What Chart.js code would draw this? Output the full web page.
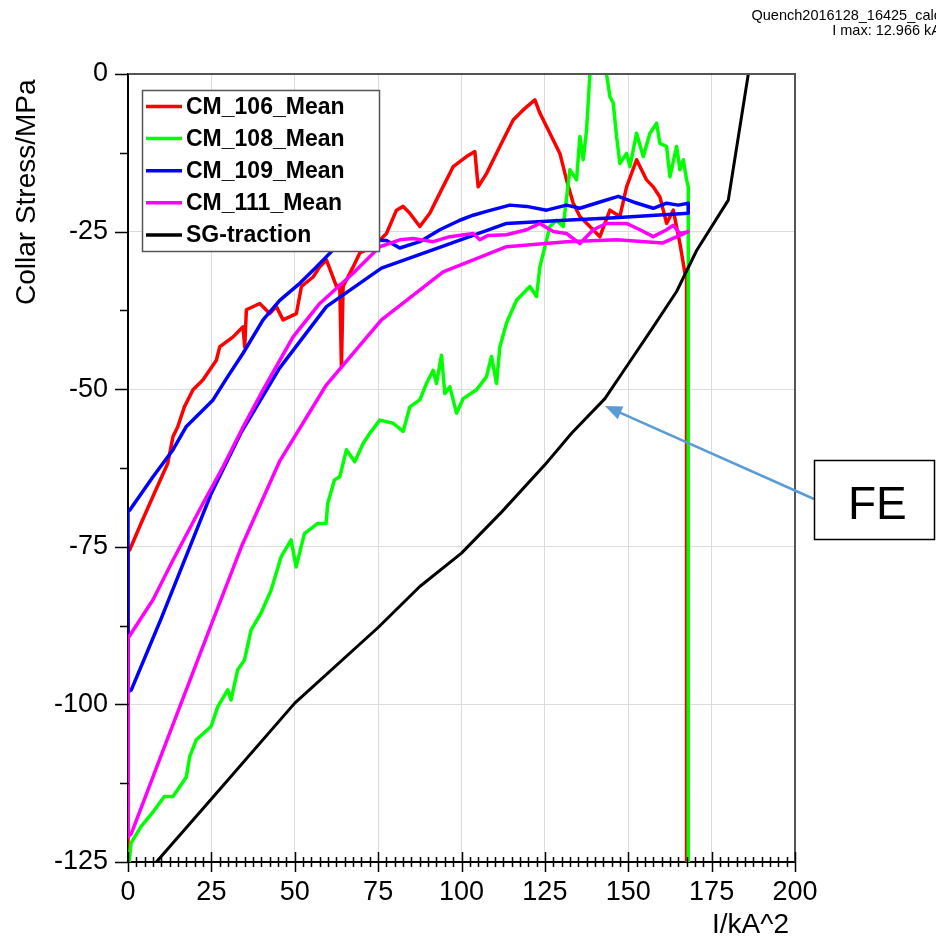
<!DOCTYPE html>
<html>
<head>
<meta charset="utf-8">
<title>Collar stress vs I^2</title>
<script src="https://cdn.jsdelivr.net/npm/chart.js@4.4.1/dist/chart.umd.min.js"></script>
<style>
  html, body { margin: 0; padding: 0; background: #fff; overflow: hidden; }
  canvas { display: block; }
</style>
</head>
<body>
<canvas id="chart" width="936" height="937"></canvas>
<script>
// values: x is I^2 in kA^2, y is collar stress in MPa
// each measured channel: ramp (noisy) up to ~168 kA^2, then the discharge back to 0

const cm106X = [0, 0, 0.5, 3.9, 7.9, 11.9, 13.5, 14.9, 16.9, 19.5, 22.5, 26.5, 27.5, 31.5, 34.5, 35, 35.5,
  39.5, 42.5, 44.5, 46.5, 50.5, 52, 55.5, 57.5, 59.5, 62.5, 63.5, 64, 64.5, 67.5, 69.5, 73.5, 77.5, 80.5,
  82.5, 84.5, 87.5, 90.5, 93.5, 97.5, 101.5, 104, 105, 107.5, 111.5, 115.5, 118.5, 122, 123.5, 126.5,
  129.5, 131.5, 133.5, 135.5, 138.5, 141.5, 144.5, 147.5, 149.5, 152.5, 155.5, 157.5, 159.5, 161.5,
  163.5, 165.5, 167, 167.5, 167.5];
const cm106Y = [-127, -75.5, -75.5, -71.3, -66.5, -61.8, -57.5, -56, -52.8, -50.1, -48.5, -45.4, -43.3,
  -41.7, -40.1, -43.3, -37.4, -36.4, -38, -36.9, -39, -38, -33.7, -32.2, -30.6, -29.5, -33.7, -33.5, -46.5,
  -33.7, -30.6, -28.4, -27.4, -25.3, -21.6, -21, -22.1, -24.2, -22.1, -18.9, -14.7, -13.1, -12.3, -17.9,
  -15.8, -11.5, -7.3, -5.7, -4.1, -6.2, -9.4, -12.6, -16.8, -20.5, -22.6, -24.2, -25.8, -21.6, -22.6,
  -17.9, -13.6, -16.8, -17.9, -19.5, -23.7, -21.6, -26.9, -31.6, -31.8, -130];

const cm108X = [0, 0.9, 3.9, 7.9, 10.9, 13.5, 17.5, 18.5, 20.5, 24.9, 26.9, 29.9, 30.9, 32.9, 34.9, 36.9,
  39.9, 42.9, 45.9, 48.9, 50.4, 52.9, 56.9, 59.4, 59.9, 61.9, 63.5, 65.5, 68, 70.5, 72.5, 75.5, 79.5, 82.5,
  84.5, 87.5, 89.5, 91.5, 92.5, 94, 95, 96.5, 98.5, 100.5, 104.5, 107.5, 109, 110.5, 111.5, 113.5, 116.5,
  120.5, 122.5, 123.5, 125, 126.5, 128.5, 130.5, 132.5, 134.5, 135.5, 136.5, 137.5, 138.5, 141, 143.5,
  144.5, 145.5, 146.5, 147.5, 149.5, 150.5, 152.5, 154.5, 156.5, 158.5, 159.5, 161.5, 162.5, 164.5,
  165.5, 166.5, 167.5, 168, 168];
const cm108Y = [-127, -122, -119.4, -116.8, -114.6, -114.6, -111.5, -108.3, -105.6, -103.5, -100.4, -97.7,
  -99.3, -94.5, -93, -88.2, -85.5, -81.9, -76.6, -73.9, -78.2, -72.9, -71.3, -71.3, -68.1, -64.4, -63.9,
  -59.6, -61.5, -58.6, -57, -54.9, -55.4, -56.7, -52.8, -51.7, -49.1, -47, -49.1, -44.6, -50.7, -49.6,
  -53.8, -51.5, -50.1, -48, -44.8, -49.1, -43.3, -39.5, -35.9, -33.7, -35.3, -30.6, -27.4, -24.2, -23.2,
  -24.2, -15.2, -16.8, -9.9, -13.6, -8.9, 0, 6, 0, -3.6, -4.6, -9.9, -14.2, -12.6, -14.7, -9.4, -13.1,
  -9.4, -7.8, -11, -11.5, -16.3, -11.5, -15.2, -13.6, -16.8, -17.9, -130];

const cm109X = [0, 0.5, 7.5, 13.5, 17.5, 21.5, 25.5, 29.9, 34.5, 40.5, 45.5, 51.5, 56.5, 61.5, 70, 77.5,
  81.5, 87.5, 93.5, 99.5, 103.5, 107.5, 114.5, 119.5, 125.5, 131.5, 135.5, 141.5, 147, 151.5, 157.5,
  161.5, 165, 168, 168, 146, 131, 113.5, 94.5, 76, 59.5, 45.4, 34, 25, 10, 1, 0, 0];
const cm109Y = [-69.2, -69.2, -63.9, -59.6, -55.9, -53.8, -51.7, -48, -44.3, -39, -35.9, -33.2, -30.6,
  -27.9, -26.3, -26.4, -27.6, -26.6, -24.7, -23.2, -22.4, -21.8, -20.8, -21, -21.6, -20.8, -21.3, -20.3,
  -19.4, -20.3, -21.3, -20.5, -20.8, -20.5, -22.1, -22.8, -23.2, -23.7, -27.3, -30.8, -36.9, -46.7,
  -56.8, -66.5, -86.3, -97.7, -98, -69.2];

const cm111X = [0, 7.5, 13.5, 22.5, 28.5, 34.5, 40.5, 49.5, 57.5, 67.5, 75.5, 81.5, 85.5, 91.5, 96.5,
  103.5, 105.5, 108, 113.5, 119.5, 123.5, 127.5, 131.5, 135.5, 139.5, 143.5, 149.5, 153.5, 157.5, 161.5,
  163.5, 165.5, 168, 160.4, 146.5, 131.5, 113.5, 94.5, 76, 59.5, 45.4, 34, 25, 10, 1, 0, 0];
const cm111Y = [-89.5, -83.4, -77.1, -68.1, -62.3, -56, -50.1, -41.7, -36.4, -31.6, -27.4, -26.3, -26.1,
  -26.6, -25.8, -25.3, -26.3, -25.6, -25.5, -24.7, -23.7, -25, -25.3, -26.9, -24.7, -23.7, -23.7, -24.7,
  -25.8, -24.7, -24, -25.3, -25, -26.8, -26.3, -26.6, -27.4, -31.4, -39, -49.3, -61.5, -75, -87.3, -108,
  -120.5, -121, -89.5];

const sgX = [8.5, 25, 50, 75, 87.5, 100, 112, 125, 133, 143, 150, 157, 164.5, 170.5, 180, 186];
const sgY = [-125, -115, -99.8, -87.8, -81.3, -76, -69.5, -62, -57, -51.5, -46, -40.5, -34.5, -28, -20, 0];

const seriesNames = ['CM_106_Mean', 'CM_108_Mean', 'CM_109_Mean', 'CM_111_Mean', 'SG-traction'];
const seriesColors = ['#ff0000', '#00ff00', '#0000ff', '#ff00ff', '#000000'];
const seriesWidths = [3.5, 3.5, 3.5, 3.5, 3];

const xTicks = [0, 25, 50, 75, 100, 125, 150, 175, 200];
const yTicks = [0, -25, -50, -75, -100, -125];

const headerLines = ['Quench2016128_16425_calc', 'I max: 12.966 kA'];
const xTitle = 'I/kA^2';
const yTitle = 'Collar Stress/MPa';
const noteText = 'FE';

const FONT = 'Arial, "Liberation Sans", sans-serif';

// zip an x list and a y list into chart points
function points(xs, ys) {
  return xs.map((x, i) => ({ x: x, y: ys[i] }));
}

const allX = [cm106X, cm108X, cm109X, cm111X, sgX];
const allY = [cm106Y, cm108Y, cm109Y, cm111Y, sgY];

const datasets = seriesNames.map((name, i) => ({
  label: name,
  data: points(allX[i], allY[i]),
  borderColor: seriesColors[i],
  backgroundColor: seriesColors[i],
  borderWidth: seriesWidths[i],
  borderJoinStyle: 'round',
  pointRadius: 0,
  showLine: true,
  tension: 0,
  // later series are drawn on top, as in the original
  order: seriesNames.length - i
}));

// extra drawing: minor ticks, frame, legend box, axis titles, header and the FE note
const decorations = {
  id: 'decorations',
  afterDraw(chart) {
    const ctx = chart.ctx;
    const area = chart.chartArea;
    const xs = chart.scales.x;
    const ys = chart.scales.y;
    ctx.save();

    // top and right frame
    ctx.strokeStyle = '#555';
    ctx.lineWidth = 2;
    ctx.beginPath();
    ctx.moveTo(area.left, area.top);
    ctx.lineTo(area.right, area.top);
    ctx.lineTo(area.right, area.bottom);
    ctx.stroke();

    // x ticks cross the axis, every 2.5 with a long one every 25
    ctx.strokeStyle = '#000';
    ctx.lineWidth = 1.5;
    ctx.beginPath();
    for (let v = xs.min; v <= xs.max + 0.01; v += 2.5) {
      const px = Math.round(xs.getPixelForValue(v)) + 0.5;
      const len = (v % 25 === 0) ? 10 : 5;
      ctx.moveTo(px, area.bottom - len);
      ctx.lineTo(px, area.bottom + len);
    }
    // y ticks stay on the outside, every 12.5
    for (let v = ys.min; v <= ys.max + 0.01; v += 12.5) {
      const py = Math.round(ys.getPixelForValue(v)) + 0.5;
      const len = (v % 25 === 0) ? 13 : 8;
      ctx.moveTo(area.left - len, py);
      ctx.lineTo(area.left + 1, py);
    }
    ctx.stroke();

    // legend inside the plot, top left
    const lx = 142.5, ly = 90.5, lw = 237, lh = 161;
    ctx.fillStyle = '#fff';
    ctx.fillRect(lx, ly, lw, lh);
    ctx.strokeStyle = '#555';
    ctx.lineWidth = 1.5;
    ctx.strokeRect(lx, ly, lw, lh);
    ctx.font = 'bold 23px ' + FONT;
    ctx.textAlign = 'left';
    ctx.textBaseline = 'middle';
    chart.data.datasets.forEach((ds, i) => {
      const ry = 106.5 + i * 32.1;
      ctx.strokeStyle = ds.borderColor;
      ctx.lineWidth = 3.5;
      ctx.beginPath();
      ctx.moveTo(146, ry);
      ctx.lineTo(182, ry);
      ctx.stroke();
      ctx.fillStyle = '#000';
      ctx.fillText(ds.label, 186, ry + 1);
    });

    // axis titles
    ctx.fillStyle = '#000';
    ctx.textBaseline = 'alphabetic';
    ctx.font = '28px ' + FONT;
    ctx.textAlign = 'right';
    ctx.fillText(xTitle, 789, 933);
    ctx.save();
    ctx.translate(35, 305);
    ctx.rotate(-Math.PI / 2);
    ctx.textAlign = 'left';
    ctx.fillText(yTitle, 0, 0);
    ctx.restore();

    // header, cut off by the right edge like the original
    ctx.font = '14.5px ' + FONT;
    ctx.textAlign = 'right';
    ctx.fillText(headerLines[0], 941, 20);
    ctx.fillText(headerLines[1], 941, 35);

    // FE note with its arrow
    ctx.strokeStyle = '#5b9bd5';
    ctx.fillStyle = '#5b9bd5';
    ctx.lineWidth = 2.5;
    const tipX = 605, tipY = 406, tailX = 814, tailY = 499;
    const ang = Math.atan2(tailY - tipY, tailX - tipX);
    ctx.beginPath();
    ctx.moveTo(tailX, tailY);
    ctx.lineTo(tipX + 12 * Math.cos(ang), tipY + 12 * Math.sin(ang));
    ctx.stroke();
    ctx.beginPath();
    ctx.moveTo(tipX, tipY);
    ctx.lineTo(tipX + 17 * Math.cos(ang) - 7 * Math.sin(ang), tipY + 17 * Math.sin(ang) + 7 * Math.cos(ang));
    ctx.lineTo(tipX + 17 * Math.cos(ang) + 7 * Math.sin(ang), tipY + 17 * Math.sin(ang) - 7 * Math.cos(ang));
    ctx.closePath();
    ctx.fill();

    ctx.fillStyle = '#fff';
    ctx.fillRect(814, 460, 120, 79);
    ctx.strokeStyle = '#000';
    ctx.lineWidth = 1.5;
    ctx.strokeRect(814.5, 460.5, 120, 79);
    ctx.fillStyle = '#000';
    ctx.font = '46px ' + FONT;
    ctx.textAlign = 'left';
    ctx.fillText(noteText, 848, 519);

    ctx.restore();
  }
};

new Chart(document.getElementById('chart'), {
  type: 'scatter',
  data: { datasets: datasets },
  options: {
    responsive: false,
    devicePixelRatio: 1,
    animation: false,
    layout: { padding: { top: 74, right: 141, left: 0, bottom: 0 } },
    plugins: {
      legend: { display: false },
      tooltip: { enabled: false }
    },
    scales: {
      x: {
        type: 'linear',
        min: 0,
        max: 200,
        afterBuildTicks: (scale) => { scale.ticks = xTicks.map(v => ({ value: v })); },
        afterFit: (scale) => { scale.height = 75; },
        grid: { color: '#dcdcdc', lineWidth: 1, drawTicks: false },
        border: { color: '#000', width: 2 },
        ticks: { color: '#000', padding: 14, maxRotation: 0, font: { family: FONT, size: 27 } }
      },
      y: {
        type: 'linear',
        min: -125,
        max: 0,
        afterBuildTicks: (scale) => { scale.ticks = yTicks.map(v => ({ value: v })); },
        afterFit: (scale) => { scale.width = 128; },
        grid: { color: '#dcdcdc', lineWidth: 1, drawTicks: false },
        border: { color: '#000', width: 2 },
        ticks: { color: '#000', padding: 20, font: { family: FONT, size: 27 } }
      }
    }
  },
  plugins: [decorations]
});
</script>
</body>
</html>
